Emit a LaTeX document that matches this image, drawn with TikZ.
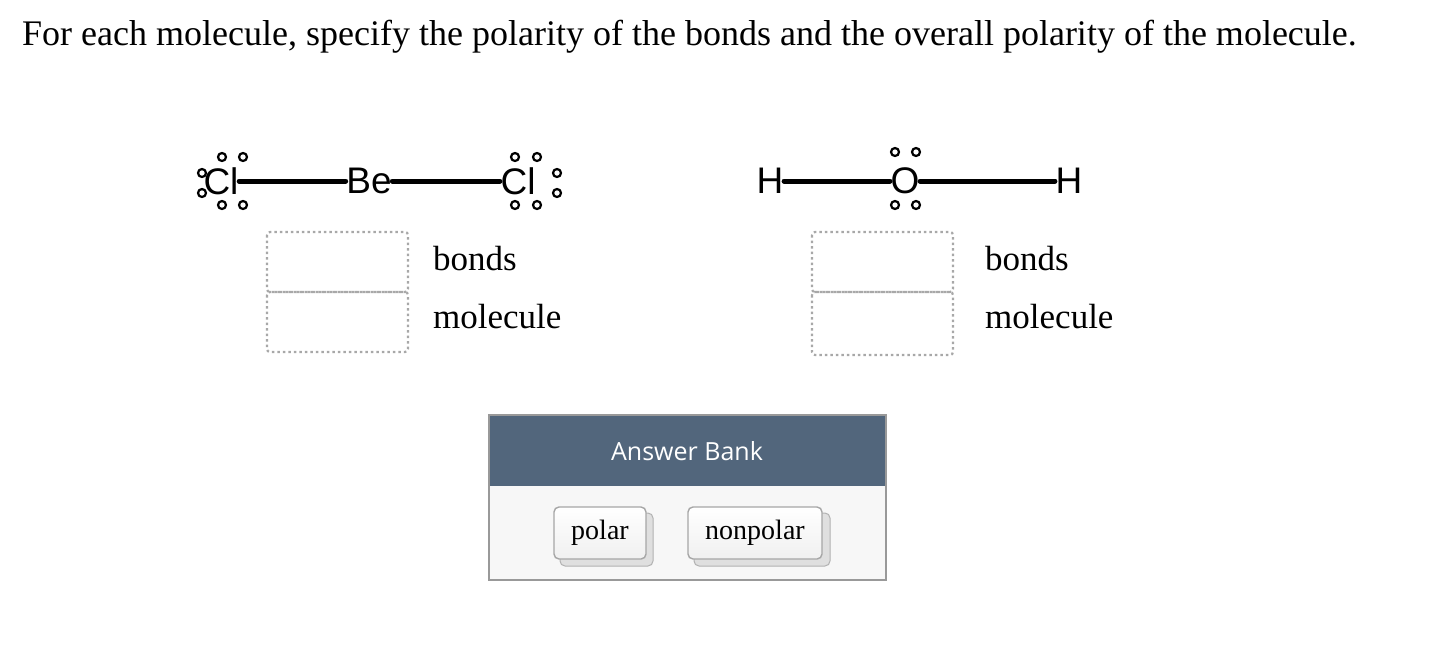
\documentclass[tikz,border=0pt]{standalone}
\usepackage{fontspec}
\setmainfont{Liberation Serif}
\setsansfont{Liberation Sans}
\newfontfamily\bankfont{Open Sans}
\definecolor{hdr}{HTML}{52667C}
\definecolor{bodyc}{HTML}{F7F7F7}
\definecolor{dotgray}{HTML}{A8A8A8}
\begin{document}
\begin{tikzpicture}[x=1pt,y=-1pt,
  atom/.style={font=\sffamily\fontsize{37}{37}\selectfont, inner sep=0.5pt, anchor=center},
  bondl/.style={line width=5pt, line cap=round},
  lp/.style={circle, draw, line width=2.2pt, fill=white, minimum size=8pt, inner sep=0pt},
  slot/.style={draw=dotgray, line width=2.2pt, dash pattern=on 2.5pt off 3pt, rounded corners=3pt},
  lbl/.style={font=\fontsize{35}{35}\selectfont, anchor=base west, inner sep=0pt},
  btn/.style={draw=gray!70, line width=1.4pt, rounded corners=5pt, top color=white, bottom color=gray!12},
  shd/.style={fill=gray!25, draw=gray!60, line width=1pt, rounded corners=5pt}]
\useasboundingbox (0,0) rectangle (1440,646);
\fill[white] (0,0) rectangle (1440,646);
\node[anchor=base west, inner sep=0pt, font=\fontsize{36}{36}\selectfont] (title) at (22,45) {For each molecule, specify the polarity of the bonds and the overall polarity of the molecule.};
% BeCl2
\node[atom] (cl1) at (221,181) {Cl};
\node[atom] (be) at (369,181) {Be};
\node[atom] (cl2) at (518,181) {Cl};
\draw[bondl] (cl1.east) -- (be.west);
\draw[bondl] (be.east) -- (cl2.west);
\foreach \p in {(222,157),(243,157),(222,205),(243,205),(202,173),(202,193),
                (515,157),(537,157),(515,205),(537,205),(557,173),(557,193)}
  \node[lp] at \p {};
\draw[slot] (267,232) rectangle (408,292);
\draw[slot] (267,292) rectangle (408,352);
\node[lbl] (b1) at (433,270) {bonds};
\node[lbl] (m1) at (433,328) {molecule};
% H2O
\node[atom] (h1) at (770,181) {H};
\node[atom] (o) at (905,181) {O};
\node[atom] (h2) at (1069,181) {H};
\draw[bondl] (h1.east) -- (o.west);
\draw[bondl] (o.east) -- (h2.west);
\foreach \p in {(895,152),(916,152),(895,205),(916,205)}
  \node[lp] at \p {};
\draw[slot] (812,232) rectangle (953,292);
\draw[slot] (812,292) rectangle (953,355);
\node[lbl] (b2) at (985,270) {bonds};
\node[lbl] (m2) at (985,328) {molecule};
% answer bank
\fill[bodyc] (489,486) rectangle (886,580);
\fill[hdr] (489,415) rectangle (886,486);
\draw[gray!80, line width=1.5pt] (489,415) rectangle (886,580);
\node[text=white, font=\bankfont\fontsize{25}{25}\selectfont] (ab) at (687,451) {Answer Bank};
\draw[shd] (560,513) rectangle (653,566);
\draw[btn] (554,507) rectangle (646,559);
\node[font=\fontsize{28}{28}\selectfont] (polar) at (600,533) {polar};
\draw[shd] (694,513) rectangle (830,566);
\draw[btn] (688,507) rectangle (822,559);
\node[font=\fontsize{28}{28}\selectfont] (np) at (755,533) {nonpolar};
\end{tikzpicture}
\end{document}
